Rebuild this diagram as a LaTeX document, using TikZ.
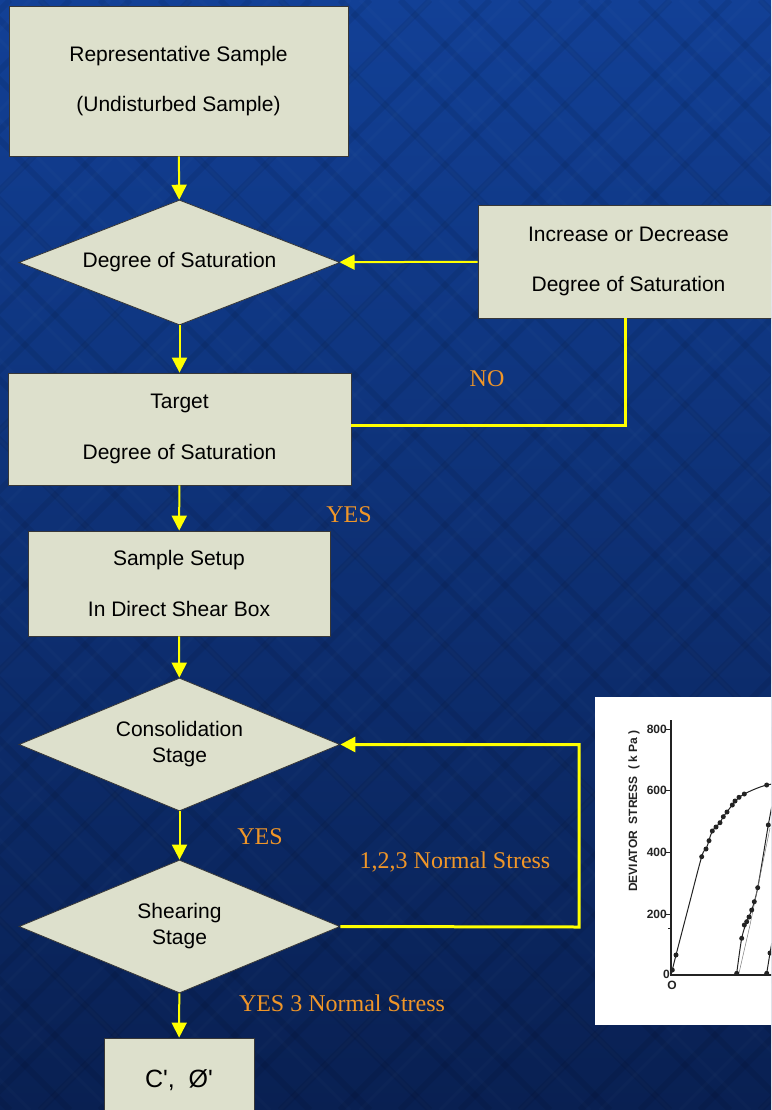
\documentclass[tikz,border=0pt]{standalone}
\usepackage{fontspec}
\setmainfont{Liberation Sans}
\newfontfamily\serifl{Liberation Serif}
\newfontfamily\plainsans{Liberation Sans}
\usetikzlibrary{shapes.geometric,arrows.meta}
\definecolor{bgtop}{RGB}{18,64,150}
\definecolor{bgbot}{RGB}{9,32,82}
\definecolor{boxfill}{RGB}{221,224,204}
\definecolor{boxline}{RGB}{55,55,55}
\definecolor{flowyellow}{RGB}{255,255,0}
\definecolor{lblorange}{RGB}{240,150,40}
\definecolor{plotink}{RGB}{35,35,35}
\begin{document}
\begin{tikzpicture}[x=1pt,y=-1pt,
  procbox/.style={draw=boxline,line width=0.8pt,fill=boxfill,inner sep=0pt,align=center,
    font=\fontsize{21}{50.5}\selectfont},
  decision/.style={diamond,draw=boxline,line width=0.8pt,fill=boxfill,inner sep=0pt,aspect=2.5,
    align=center,font=\fontsize{21}{26}\selectfont},
  flow/.style={draw=flowyellow,line width=2pt,-{Triangle[length=15pt,width=15pt]}},
  loopflow/.style={draw=flowyellow,line width=3pt},
  lbl/.style={text=lblorange,font=\serifl\fontsize{24}{28}\selectfont,inner sep=0pt},
  ticklbl/.style={text=plotink,font=\bfseries\fontsize{12}{14}\selectfont,inner sep=0pt,anchor=east},
  dot/.style={fill=plotink,circle,inner sep=0pt,minimum size=5pt}
]
\useasboundingbox (0,0) rectangle (771,1110);
\clip (0,0) rectangle (771,1110);
% background
\shade[top color=bgtop,bottom color=bgbot] (0,0) rectangle (771,1110);
\foreach \i in {-1100,-1040,...,800} {
  \draw[black,opacity=0.07,line width=6pt] (\i,0) -- ++(1110,1110);
  \draw[black,opacity=0.07,line width=6pt] (\i+1110,0) -- ++(-1110,1110);
}
\foreach \i in {-1080,-1000,...,800} {
  \draw[white,opacity=0.015,line width=3pt] (\i,0) -- ++(1110,1110);
  \draw[white,opacity=0.015,line width=3pt] (\i+1110,0) -- ++(-1110,1110);
}

% nodes
\node[procbox,minimum width=339pt,minimum height=150pt] (rep) at (178.5,81)
  {Representative Sample\\(Undisturbed Sample)};
\node[decision,minimum width=321pt,minimum height=125pt] (deg) at (179.5,262.5)
  {Degree of Saturation};
\node[procbox,minimum width=301pt,minimum height=113pt] (incr) at (628.5,261.5)
  {Increase or Decrease\\Degree of Saturation};
\node[procbox,minimum width=343pt,minimum height=112pt] (tgt) at (179.5,429)
  {Target\\Degree of Saturation};
\node[procbox,minimum width=302pt,minimum height=105pt] (setup) at (179,583.5)
  {Sample Setup\\In Direct Shear Box};
\node[decision,minimum width=321pt,minimum height=133pt] (cons) at (179.5,744.5)
  {Consolidation\\Stage};
\node[decision,minimum width=321pt,minimum height=133pt] (shear) at (179.5,926.5)
  {Shearing\\Stage};
\node[procbox,minimum width=150pt,minimum height=84pt,font=\plainsans\fontsize{25}{28}\selectfont] (res) at (179,1080)
  {C', \;Ø'};

% connectors
\draw[flow] (rep) -- (deg);
\draw[flow] (incr) -- (deg);
\draw[flow] (deg) -- (tgt);
\draw[loopflow] (tgt.east |- 0,425) -| (incr.south -| 625,0);
\draw[flow] (tgt) -- (setup);
\draw[flow] (setup) -- (cons);
\draw[flow] (cons) -- (shear);
\coordinate (loopcorner) at (579,927);
\draw[loopflow] (shear.east) -- (loopcorner) |- ([xshift=14pt]cons.east);
\draw[flow,line width=3pt] ([xshift=15pt]cons.east) -- (cons.east);
\draw[flow] (shear) -- (res);

% labels
\node[lbl] (lno) at (487,379) {NO};
\node[lbl] (lyes1) at (349,515) {YES};
\node[lbl] (lyes2) at (260,837) {YES};
\node[lbl] (lnormal) at (455,862) {1,2,3 Normal Stress};
\node[lbl] (lyes3) at (342,1003) {YES 3 Normal Stress};

% inset plot
\begin{scope}
  \clip (595,697) rectangle (771,1025);
  \fill[white] (595,697) rectangle (771,1025);
  \draw[plotink,line width=1.3pt] (671,720) -- (671,975) -- (780,975);
  \foreach \v/\yy in {800/729,600/790,400/852,200/914} {
    \draw[plotink,line width=1pt] (666,\yy) -- (671,\yy);
    \node[ticklbl] at (667,\yy) {\v};
  }
  \draw[plotink,line width=1pt] (668,928) -- (671,928);
  \node[ticklbl] at (670,974) {0};
  \node[text=plotink,font=\bfseries\fontsize{12}{14}\selectfont,inner sep=0pt] at (672,985) {O};
  \node[text=plotink,font=\bfseries\fontsize{12}{14}\selectfont,inner sep=0pt,rotate=90] at (634,811)
    {DEVIATOR \ STRESS \ ( k Pa )};
  % curve 1
  \draw[plotink,line width=1pt] plot[smooth,tension=0.6] coordinates {
    (671,975) (672.3,970) (676,955) (689,905) (701.7,856.7) (706,849) (709,840.7) (712.3,831)
    (720,822.7) (723.3,816.7) (732.3,805) (739,797.3) (744.3,794) (755,789) (766.7,785) (780,783)};
  \foreach \p in {(672.3,970),(676,955),(701.7,856.7),(706,849),(709,840.7),(712.3,831),(716,827),
    (720,822.7),(723.3,816.7),(727,812),(732.3,805),(735,801),(739,797.3),(744.3,794),(766.7,785)}
    \node[dot] at \p {};
  % curve 2
  \draw[plotink,line width=1pt] plot[smooth,tension=0.5] coordinates {
    (736.7,973.3) (741.7,938.3) (746.7,921.7) (751.7,910) (757.7,887.7) (768.3,825) (775,790)};
  \draw[plotink!60,line width=0.5pt] (739,973) -- (750,925) -- (770,828);
  \foreach \p in {(736.7,973.3),(741.7,938.3),(744.3,925),(746.7,921.7),(749,917),(751.7,910),(754.3,901.7),(757.7,887.7),(768.3,825)}
    \node[dot] at \p {};
  % curve 3
  \draw[plotink,line width=1pt] (766.7,973.3) -- (770,953) -- (775,925);
  \foreach \p in {(766.7,973.3),(770,953)}
    \node[dot] at \p {};
\end{scope}
\end{tikzpicture}
\end{document}
